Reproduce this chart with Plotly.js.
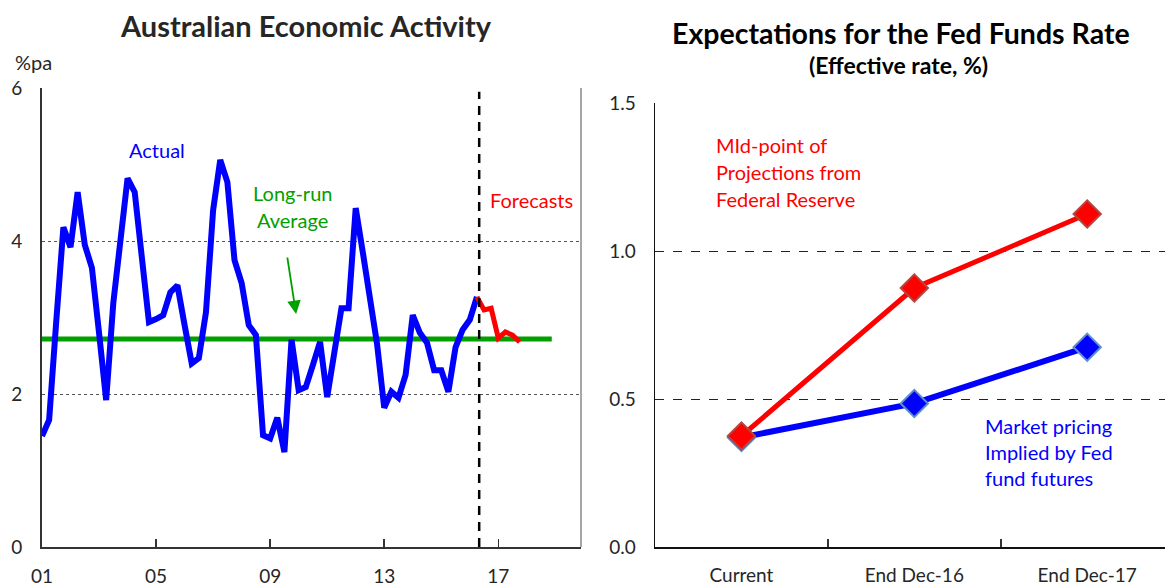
<!DOCTYPE html>
<html>
<head>
<meta charset="utf-8">
<script src="https://cdn.plot.ly/plotly-3.0.1.min.js"></script>
<style>html,body{margin:0;padding:0;background:#fff;}#chart{width:1165px;height:587px;}</style>
</head>
<body>
<div id="chart"></div>
<script>
// ---------- Data: Australian Economic Activity (quarterly, %pa) ----------
const startYear = 2001;          // first quarter = 2001 Q1
const actualGrowth = [
  1.45, 1.66, 2.95, 4.18, 3.92, 4.64, 3.95, 3.65, 2.80, 1.92,
  3.19, 4.00, 4.82, 4.64, 3.80, 2.94, 2.98, 3.03, 3.33, 3.42,
  2.90, 2.40, 2.47, 3.07, 4.40, 5.06, 4.77, 3.75, 3.45, 2.90,
  2.77, 1.46, 1.42, 1.69, 1.24, 2.71, 2.05, 2.09, 2.38, 2.68,
  1.96, 2.55, 3.12, 3.12, 4.43, 3.85, 3.30, 2.65, 1.82, 2.03,
  1.95, 2.25, 3.03, 2.80, 2.67, 2.31, 2.31, 2.03, 2.61, 2.84,
  2.97, 3.27
];
const forecastGrowth = [3.27, 3.10, 3.12, 2.73, 2.81, 2.77, 2.68]; // starts at last actual quarter
const longRunAverage = 2.72;
const averagePeriod = [2001.0, 2018.875];
const forecastStart = 2016.33;
const leftTickVals = [2001, 2005, 2009, 2013, 2017];
const leftTickText = ["01", "05", "09", "13", "17"];

// ---------- Data: Expectations for the Fed Funds Rate ----------
const fedCategories = ["Current", "End Dec-16", "End Dec-17"];
const fedProjections = [0.375, 0.875, 1.125];
const marketPricing = [0.37, 0.485, 0.675];

// ---------- Build ----------
const qx = (i) => startYear + i / 4;
const actualX = actualGrowth.map((_, i) => qx(i));
const forecastX = forecastGrowth.map((_, i) => qx(actualGrowth.length - 1 + i));

const FONT = "Lato, 'Open Sans', sans-serif";
const W = 1165, H = 587;
const px = (x) => x / W;
const py = (y) => 1 - y / H;

const traces = [
  { x: averagePeriod, y: averagePeriod.map(() => longRunAverage), xaxis: 'x', yaxis: 'y',
    mode: 'lines', line: { color: '#00A000', width: 5 }, hoverinfo: 'skip' },
  { x: actualX, y: actualGrowth, xaxis: 'x', yaxis: 'y', mode: 'lines',
    line: { color: '#0000FF', width: 6, shape: 'linear' }, hoverinfo: 'skip' },
  { x: forecastX, y: forecastGrowth, xaxis: 'x', yaxis: 'y', mode: 'lines',
    line: { color: '#FF0000', width: 5 }, hoverinfo: 'skip' },
  { x: fedCategories, y: marketPricing, xaxis: 'x2', yaxis: 'y2', mode: 'lines+markers',
    line: { color: '#0000FF', width: 6 },
    marker: { symbol: 'diamond', size: 21, color: '#0000FF', line: { color: '#5B8FD0', width: 2 } },
    hoverinfo: 'skip' },
  { x: fedCategories, y: fedProjections, xaxis: 'x2', yaxis: 'y2', mode: 'lines+markers',
    line: { color: '#FF0000', width: 5 },
    marker: { symbol: 'diamond', size: 21, color: '#FF0000', line: { color: '#B5453F', width: 2 } },
    hoverinfo: 'skip' }
];

const tickFont = { family: FONT, size: 19, color: '#262626' };

function label(text, x, y, size, color, xanchor) {
  return { text, xref: 'paper', yref: 'paper', x: px(x), y: py(y),
    xanchor: xanchor || 'center', yanchor: 'middle', showarrow: false,
    font: { family: FONT, size, color } };
}

const layout = {
  width: W, height: H,
  margin: { l: 0, r: 0, t: 0, b: 0 },
  paper_bgcolor: '#fff', plot_bgcolor: '#fff',
  showlegend: false,
  font: { family: FONT },
  xaxis: {
    domain: [px(42), px(581)], range: [2001, 2019.9], anchor: 'y',
    tickvals: leftTickVals, ticktext: leftTickText,
    ticks: 'inside', ticklen: 8, tickwidth: 1.5, tickcolor: '#333',
    showline: true, linecolor: '#333', linewidth: 2,
    showgrid: false, zeroline: false, tickfont: tickFont, ticklabelstandoff: 11
  },
  yaxis: {
    domain: [py(547), py(88)], range: [0, 6], anchor: 'x',
    tickvals: [0, 2, 4, 6], ticks: 'outside', ticklen: 14, tickcolor: 'rgba(0,0,0,0)',
    showline: true, linecolor: '#333', linewidth: 2,
    showgrid: true, gridcolor: '#555', griddash: 'dot', gridwidth: 1,
    zeroline: false, tickfont: tickFont
  },
  xaxis2: {
    domain: [px(655), 1], range: [-0.5, 2.45], anchor: 'y2', type: 'category',
    tickson: 'boundaries', ticks: 'inside', ticklen: 8, tickwidth: 1.5, tickcolor: '#333',
    showline: true, linecolor: '#111', linewidth: 1.5,
    showgrid: false, zeroline: false, tickfont: tickFont, ticklabelstandoff: 11
  },
  yaxis2: {
    domain: [py(547), py(103)], range: [0, 1.5], anchor: 'x2',
    tickvals: [0, 0.5, 1.0, 1.5], tickformat: '.1f',
    ticks: 'outside', ticklen: 14, tickcolor: 'rgba(0,0,0,0)',
    showline: true, linecolor: '#111', linewidth: 1.5,
    showgrid: true, gridcolor: '#222', griddash: 'dash', gridwidth: 1,
    zeroline: false, tickfont: tickFont
  },
  shapes: [
    { type: 'line', xref: 'x domain', yref: 'y domain', x0: 1, x1: 1, y0: 0, y1: 1,
      line: { color: '#888', width: 1.5 } },
    { type: 'line', xref: 'x', yref: 'y', x0: forecastStart, x1: forecastStart, y0: 0, y1: 5.95,
      line: { color: '#000', width: 2.5, dash: '9px,7px' } }
  ],
  annotations: [
    label('<b>Australian Economic Activity</b>', 306, 25, 29, '#262626'),
    label('%pa', 33, 62, 20, '#262626'),
    label('Actual', 157, 150, 20, '#0000FF'),
    label('Long-run', 292, 193, 20, '#00A000'),
    label('Average', 292, 220, 20, '#00A000'),
    { text: '', xref: 'x', yref: 'y', x: 2009.91, y: (547 - 314) / 76.5,
      ax: -9, ay: -58, showarrow: true, arrowhead: 2, arrowsize: 1.5, arrowwidth: 1.8, arrowcolor: '#00A000' },
    label('Forecasts', 531, 200, 20, '#FF0000'),

    label('<b>Expectations for the Fed Funds Rate</b>', 901, 33, 28.5, '#000'),
    label('<b>(Effective rate, %)</b>', 898, 65, 23, '#000'),
    label('MId-point of', 714, 145, 20, '#FF0000', 'left'),
    label('Projections from', 714, 172, 20, '#FF0000', 'left'),
    label('Federal Reserve', 714, 199, 20, '#FF0000', 'left'),
    label('Market pricing', 983, 426, 20, '#0000FF', 'left'),
    label('Implied by Fed', 983, 452, 20, '#0000FF', 'left'),
    label('fund futures', 983, 478, 20, '#0000FF', 'left')
  ]
};

Plotly.newPlot('chart', traces, layout, { staticPlot: true, displayModeBar: false });
</script>
</body>
</html>
